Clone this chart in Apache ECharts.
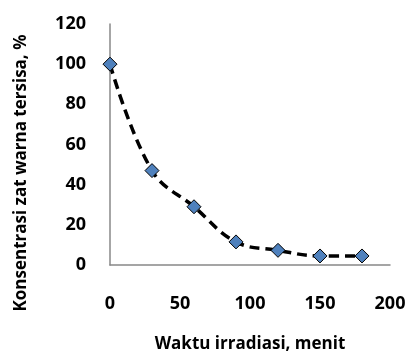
<!DOCTYPE html>
<html>
<head>
<meta charset="utf-8">
<script src="https://cdn.jsdelivr.net/npm/echarts@6/dist/echarts.min.js"></script>
<style>
  html, body { margin: 0; padding: 0; background: #fff; }
  #chart { width: 406px; height: 356px; }
</style>
</head>
<body>
<div id="chart"></div>
<script>
  // waktu irradiasi (menit) dan konsentrasi tersisa (%)
  const waktu = [0, 30, 60, 90, 120, 150, 180];
  const konsentrasi = [100, 47, 29, 11.5, 7.3, 4.5, 4.5];

  const xName = 'Waktu irradiasi, menit';
  const yName = 'Konsentrasi zat warna tersisa, %';

  const font = '"Open Sans", "DejaVu Sans", sans-serif';

  let chart = echarts.init(document.getElementById('chart'));
  chart.setOption({
    animation: false,
    grid: { left: 110, right: 16, top: 24, bottom: 91, outerBoundsMode: 'none', containLabel: false },
    xAxis: {
      type: 'value',
      min: 0, max: 200, interval: 50,
      name: xName,
      nameLocation: 'middle',
      nameGap: 71,
      nameTextStyle: { fontFamily: font, fontWeight: 'bold', fontSize: 17, color: '#000' },
      axisLine: { show: true, lineStyle: { color: '#888', width: 1.5 } },
      axisTick: { show: false },
      splitLine: { show: false },
      axisLabel: { margin: 30, fontFamily: font, fontWeight: 'bold', fontSize: 18, color: '#000' }
    },
    yAxis: {
      type: 'value',
      min: 0, max: 120, interval: 20,
      axisLine: { show: true, lineStyle: { color: '#888', width: 1.5 } },
      axisTick: { show: false },
      splitLine: { show: false },
      axisLabel: { margin: 24, fontFamily: font, fontWeight: 'bold', fontSize: 18, color: '#000' }
    },
    graphic: [{
      type: 'text',
      x: 21, y: 173,
      rotation: Math.PI / 2,
      style: {
        text: yName,
        fontFamily: font, fontWeight: 'bold', fontSize: 17, fill: '#000',
        align: 'center', verticalAlign: 'middle'
      }
    }],
    series: [{
      type: 'line',
      data: waktu.map((w, i) => [w, konsentrasi[i]]),
      smooth: 0.4,
      symbol: 'diamond',
      symbolSize: 14,
      lineStyle: { color: '#000', width: 3.5, type: [10, 6] },
      itemStyle: { color: '#4f81bd', borderColor: '#000', borderWidth: 1 }
    }]
  });
</script>
</body>
</html>
